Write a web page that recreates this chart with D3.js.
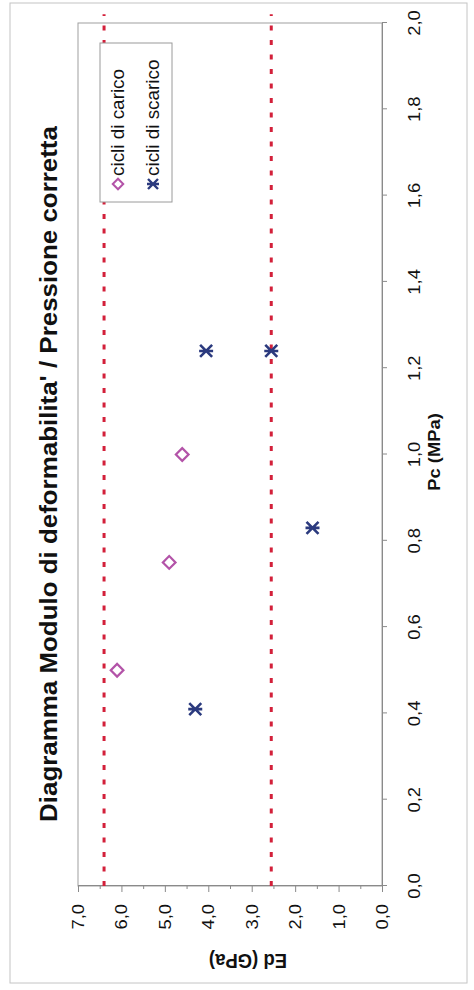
<!DOCTYPE html>
<html><head><meta charset="utf-8">
<script src="https://cdn.jsdelivr.net/npm/d3@7"></script>
<style>
  html,body{margin:0;padding:0;background:#fff}
  svg{display:block}
  text{font-family:Arial,"Liberation Sans",sans-serif;fill:#111}
</style>
</head><body>
<svg id="chart" width="474" height="990"></svg>
<script>
// Texts
const chartTitle = "Diagramma Modulo di deformabilita' / Pressione corretta";
const xTitle = "Pc (MPa)";
const yTitle = "Ed (GPa)";
const seriesNames = ["cicli di carico", "cicli di scarico"];

// Loading cycles (Pc in MPa, Ed in GPa)
const caricoPc = [0.5, 0.75, 1.0];
const caricoEd = [6.1, 4.9, 4.6];
// Unloading cycles
const scaricoPc = [0.41, 0.83, 1.24, 1.24];
const scaricoEd = [4.3, 1.6, 4.05, 2.55];
// Reference limits (dashed red)
const limitEd = [6.4, 2.55];
const limitPc = [0, 2.02];

// Axis ticks
const pcTicks = [0, 0.2, 0.4, 0.6, 0.8, 1.0, 1.2, 1.4, 1.6, 1.8, 2.0];
const edTicks = [0, 1, 2, 3, 4, 5, 6, 7];
const edMinor = [0.5, 1.5, 2.5, 3.5, 4.5, 5.5, 6.5];

const colCarico = "#b353a8";
const colScarico = "#2b3a7e";
const colLimit = "#d3203a";
const colAxis = "#8a8a8a";
const SX = 1.08; // slight horizontal widening of the lettering

const fmt = d3.formatLocale({decimal: ",", thousands: ".", grouping: [3], currency: ["", "€"]}).format(".1f");

// The chart is laid out landscape (990 x 474) and turned a quarter turn onto the portrait page.
const W = 990, H = 474;
const svg = d3.select("#chart");
svg.append("rect").attr("width", 474).attr("height", 990).attr("fill", "#fff");
const g = svg.append("g").attr("transform", `translate(0,${W}) rotate(-90)`);

const x = d3.scaleLinear().domain([0, 2]).range([104, 967]);
const y = d3.scaleLinear().domain([0, 7]).range([382, 78]);

function place(sel, px, py, extra) {
  return sel.attr("transform", `translate(${px},${py}) scale(${SX},1)` + (extra || ""));
}

// outer frame
g.append("rect").attr("x", 7).attr("y", 10).attr("width", 980).attr("height", 457)
  .attr("fill", "none").attr("stroke", "#c4c4c4").attr("stroke-width", 1);

// plot area border
g.append("rect").attr("x", x(0)).attr("y", y(7)).attr("width", x(2) - x(0)).attr("height", y(0) - y(7))
  .attr("fill", "none").attr("stroke", "#a0a0a0").attr("stroke-width", 1);

// Ed axis (left in the landscape layout)
g.append("g").attr("transform", `translate(${x(0)},0)`)
  .call(d3.axisLeft(y).tickValues(edTicks).tickSize(6).tickFormat(""));
g.append("g").attr("transform", `translate(${x(0)},0)`)
  .call(d3.axisLeft(y).tickValues(edMinor).tickSize(3).tickFormat(""));
// Pc axis (bottom)
g.append("g").attr("transform", `translate(0,${y(0)})`)
  .call(d3.axisBottom(x).tickValues(pcTicks).tickSize(5).tickFormat(""));
g.selectAll(".domain").attr("stroke", colAxis);
g.selectAll(".tick line").attr("stroke", colAxis);

// tick labels
g.append("g").selectAll("text").data(edTicks).join("text")
  .text(d => fmt(d)).attr("font-size", 17).attr("text-anchor", "end").attr("dy", "0.35em")
  .each(function(d) { place(d3.select(this), 86, y(d)); });
g.append("g").selectAll("text").data(pcTicks).join("text")
  .text(d => fmt(d)).attr("font-size", 17).attr("text-anchor", "middle")
  .each(function(d) { place(d3.select(this), x(d), 420); });

// axis titles
place(g.append("text").text(xTitle).attr("font-size", 17).attr("font-weight", "bold")
  .attr("text-anchor", "middle"), 538, 440);
g.append("text").text(yTitle).attr("font-size", 18.5).attr("font-weight", "bold")
  .attr("text-anchor", "middle")
  .attr("transform", `translate(36,248) scale(${SX},1) rotate(-90)`);

// chart title
place(g.append("text").text(chartTitle).attr("font-size", 24).attr("font-weight", "bold")
  .attr("text-anchor", "middle"), 516, 57);

// reference limits
g.append("g").selectAll("line").data(limitEd).join("line")
  .attr("x1", x(limitPc[0])).attr("x2", x(limitPc[1]))
  .attr("y1", d => y(d)).attr("y2", d => y(d))
  .attr("stroke", colLimit).attr("stroke-width", 3).attr("stroke-dasharray", "5,9.5");

// markers
const diamond = d3.symbol(d3.symbolSquare, 80);
const star = r => `M${-r},${-r}L${r},${r}M${-r},${r}L${r},${-r}M0,${-r - 1}L0,${r + 1}`;

g.append("g").selectAll("path").data(d3.range(caricoPc.length)).join("path")
  .attr("d", diamond())
  .attr("transform", i => `translate(${x(caricoPc[i])},${y(caricoEd[i])}) rotate(45)`)
  .attr("fill", "none").attr("stroke", colCarico).attr("stroke-width", 2.2);

g.append("g").selectAll("path").data(d3.range(scaricoPc.length)).join("path")
  .attr("d", star(6))
  .attr("transform", i => `translate(${x(scaricoPc[i])},${y(scaricoEd[i])})`)
  .attr("fill", "none").attr("stroke", colScarico).attr("stroke-width", 2.6);

// legend
const lg = g.append("g");
lg.append("rect").attr("x", 788).attr("y", 100).attr("width", 159).attr("height", 72)
  .attr("fill", "#fff").attr("stroke", "#9a9a9a").attr("stroke-width", 1);
const rows = [118, 153];
lg.append("path").attr("d", diamond.size(55)())
  .attr("transform", `translate(806,${rows[0]}) rotate(45)`)
  .attr("fill", "none").attr("stroke", colCarico).attr("stroke-width", 2);
lg.append("path").attr("d", star(5))
  .attr("transform", `translate(806,${rows[1]})`)
  .attr("fill", "none").attr("stroke", colScarico).attr("stroke-width", 2.4);
seriesNames.forEach((s, i) => {
  place(lg.append("text").text(s).attr("font-size", 17.5).attr("dy", "0.35em"), 814, rows[i]);
});
</script>
</body></html>
